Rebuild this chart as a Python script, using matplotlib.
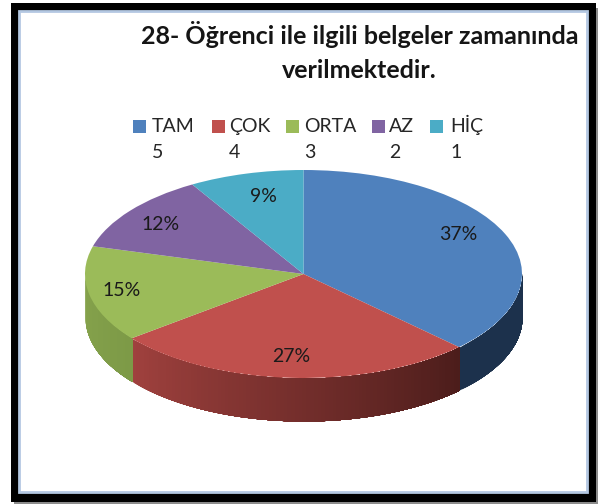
#pie chart with fake 3d side, everything placed in image pixels
import numpy as np
import matplotlib
matplotlib.use("Agg")
import matplotlib.pyplot as plt
from matplotlib.colors import to_rgb
from matplotlib.patches import Rectangle

#data
names = ["TAM", "ÇOK", "ORTA", "AZ", "HİÇ"]
scores = ["5", "4", "3", "2", "1"]
shares = [37.4, 27.0, 14.9, 12.2, 8.5]
percent = [37, 27, 15, 12, 9]
title = "28- Öğrenci ile ilgili belgeler zamanında\nverilmektedir."

#colours of the top face and of the side (left end, right end)
colors = ["#4f81bd", "#c0504d", "#9bbb59", "#8064a2", "#4bacc6"]
side_left = ["#1c314c", "#a0413e", "#86a34c", "#6a5387", "#3d8ea3"]
side_right = ["#1c314c", "#4c1d1b", "#7d9a47", "#6a5387", "#3d8ea3"]

W, H = 601, 504
cx, cy, rx, ry, depth = 303.5, 274, 218.5, 104, 43

plt.rcParams["font.family"] = ["Lato", "DejaVu Sans"]
fig = plt.figure(figsize=(W / 100, H / 100), dpi=100, facecolor="white")

#background axes in pixels, y goes down
bg = fig.add_axes([0, 0, 1, 1])
bg.set_xlim(0, W)
bg.set_ylim(H, 0)
bg.axis("off")
bg.add_patch(Rectangle((14, 8), 584, 496, color="#8c8c8c", lw=0))
bg.add_patch(Rectangle((11, 3), 585, 499, color="black", lw=0))
bg.add_patch(Rectangle((19, 11), 568, 481, facecolor="white", edgecolor="#b4c8e2", lw=2))

#pie axes, the unit circle is squeezed to an ellipse
ax = fig.add_axes([(cx - rx) / W, 1 - (cy + ry) / H, 2 * rx / W, 2 * ry / H])
wedges, _ = ax.pie(shares, colors=colors, startangle=90, counterclock=False,
                   radius=1, wedgeprops={"linewidth": 0})
ax.set_aspect("auto")
ax.set_xlim(-1, 1)
ax.set_ylim(-1, 1)

#side of the disc, only the front half shows (angles -180 to 0 here)
#each strip runs on to the end of the slice and the next one paints over it, no seams that way
d = depth / ry
for w, c1, c2 in zip(wedges, side_left, side_right):
    a1, a2 = sorted([w.theta1, w.theta2])
    a1, a2 = max(a1, -180), min(a2, 0)
    if a2 <= a1:
        continue
    angles = np.linspace(a1, a2, int(a2 - a1) + 2)
    for i in range(len(angles) - 1):
        t = np.radians(np.linspace(angles[i], a2, 200))
        f = i / max(len(angles) - 2, 1)
        rgb = (1 - f) * np.array(to_rgb(c1)) + f * np.array(to_rgb(c2))
        ax.fill_between(np.cos(t), np.sin(t), np.sin(t) - d, color=rgb, lw=0, clip_on=False, zorder=0)

#text and legend on top, back in pixels
top = fig.add_axes([0, 0, 1, 1])
top.set_xlim(0, W)
top.set_ylim(H, 0)
top.axis("off")
top.patch.set_alpha(0)

lines = title.split("\n")
top.text(359.5, 44, lines[0], ha="center", va="baseline", fontsize=18, fontweight="bold", color="#151515")
top.text(359, 78, lines[1], ha="center", va="baseline", fontsize=18, fontweight="bold", color="#151515")

box_x = [133, 212, 286, 372, 430]
text_x = [152, 229, 304, 389, 450]
for name, score, c, x, tx in zip(names, scores, colors, box_x, text_x):
    top.add_patch(Rectangle((x, 120), 13, 13, color=c, lw=0))
    top.text(tx, 132, name, ha="left", va="baseline", fontsize=14, color="#262626")
    top.text(tx, 158, score, ha="left", va="baseline", fontsize=14, color="#262626")

label_x = [458, 291, 122, 161, 263]
label_y = [234, 357, 291, 225, 197]
for p, x, y in zip(percent, label_x, label_y):
    top.text(x, y, f"{p}%", ha="center", va="center", fontsize=14, color="#1a1a1a")

fig.savefig("out.png", dpi=100)
